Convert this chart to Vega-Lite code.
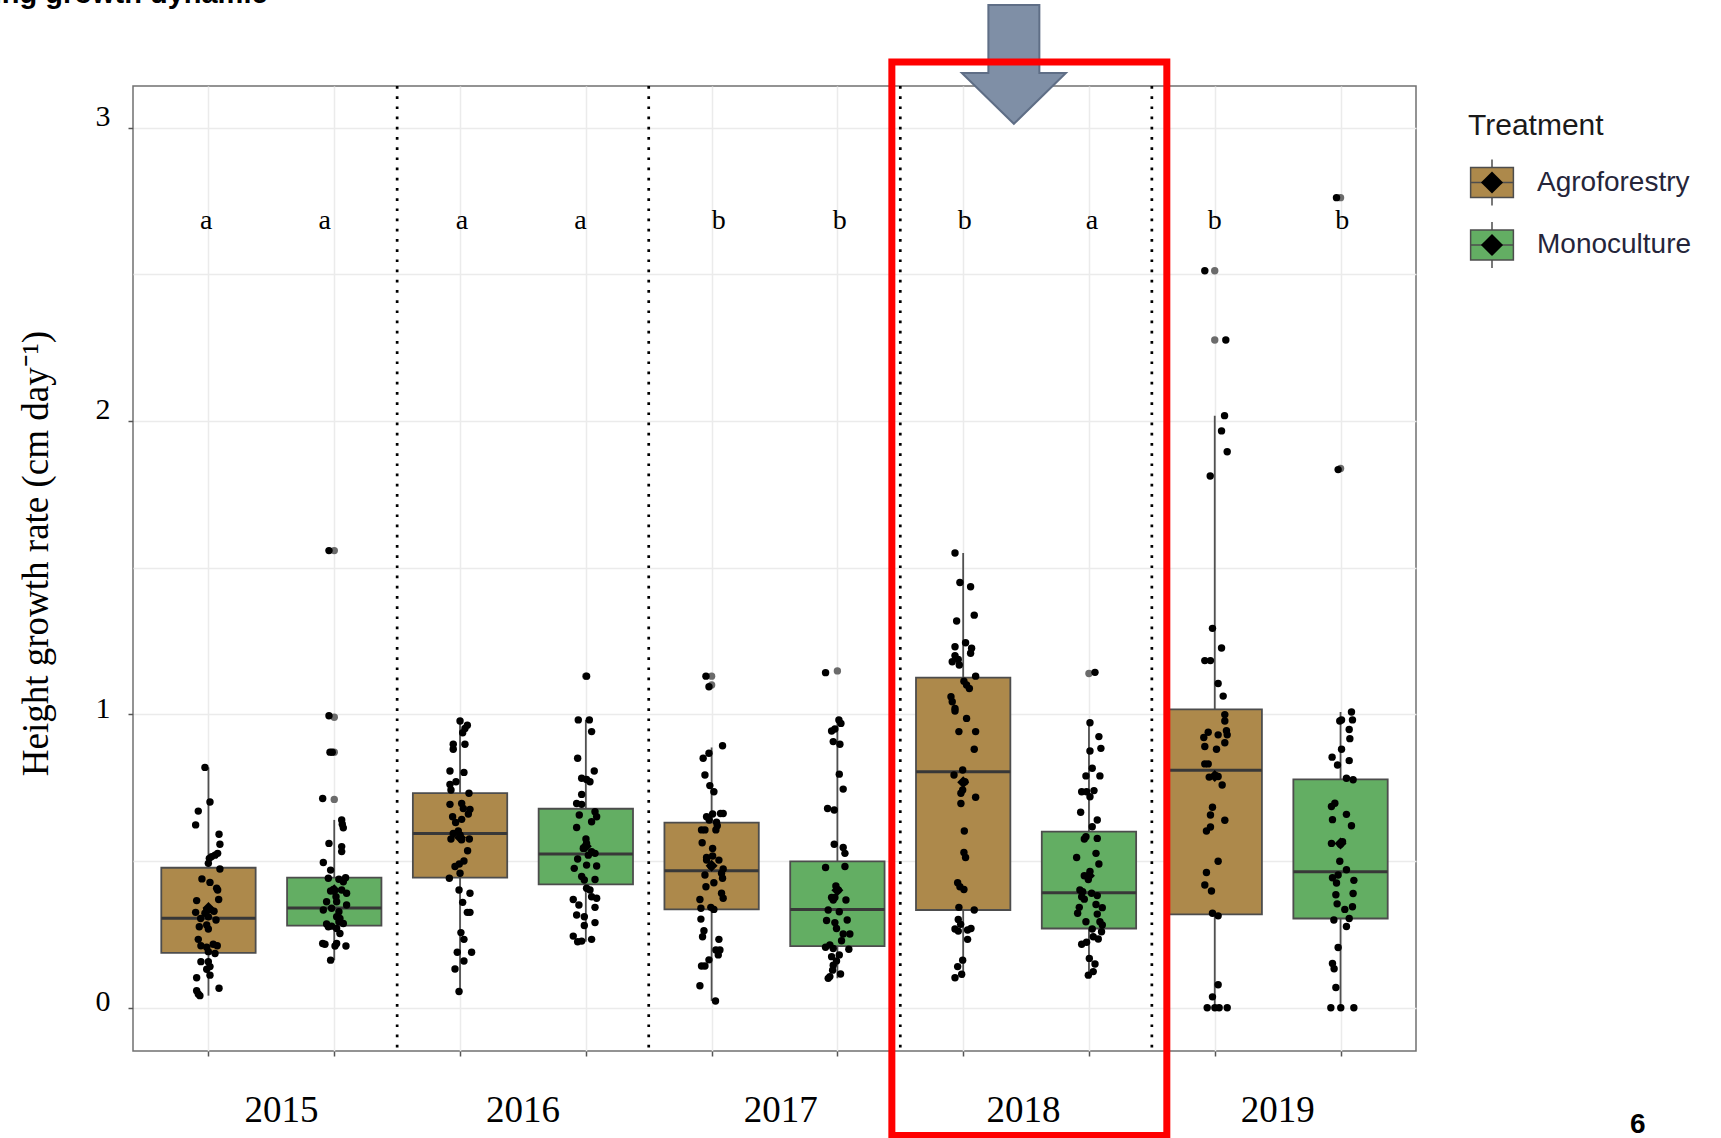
{
  "$schema": "https://vega.github.io/schema/vega-lite/v6.json",
  "width": 1283,
  "height": 965,
  "autosize": {"type": "none"},
  "padding": {"left": 133, "top": 86, "right": 305, "bottom": 87},
  "background": "#ffffff",
  "config": {"view": {"stroke": "#707070", "strokeWidth": 1.5}},
  "datasets": {
    "boxes": [
      {"year": "2015", "treatment": "Agroforestry", "pos": 1, "lo": 0.041, "q1": 0.187, "med": 0.305, "q3": 0.477, "hi": 0.819, "mean": 0.34, "letter": "a", "lx": 0.983},
      {"year": "2015", "treatment": "Monoculture", "pos": 2, "lo": 0.162, "q1": 0.280, "med": 0.340, "q3": 0.443, "hi": 0.640, "mean": 0.40, "letter": "a", "lx": 1.925},
      {"year": "2016", "treatment": "Agroforestry", "pos": 3, "lo": 0.055, "q1": 0.443, "med": 0.594, "q3": 0.731, "hi": 0.977, "mean": 0.58, "letter": "a", "lx": 3.016},
      {"year": "2016", "treatment": "Monoculture", "pos": 4, "lo": 0.225, "q1": 0.420, "med": 0.524, "q3": 0.678, "hi": 0.981, "mean": 0.55, "letter": "a", "lx": 3.958},
      {"year": "2017", "treatment": "Agroforestry", "pos": 5, "lo": 0.023, "q1": 0.335, "med": 0.467, "q3": 0.631, "hi": 0.887, "mean": 0.484, "letter": "b", "lx": 5.057},
      {"year": "2017", "treatment": "Monoculture", "pos": 6, "lo": 0.100, "q1": 0.210, "med": 0.335, "q3": 0.499, "hi": 0.975, "mean": 0.40, "letter": "b", "lx": 6.018},
      {"year": "2018", "treatment": "Agroforestry", "pos": 7, "lo": 0.102, "q1": 0.333, "med": 0.804, "q3": 1.125, "hi": 1.550, "mean": 0.768, "letter": "b", "lx": 7.012},
      {"year": "2018", "treatment": "Monoculture", "pos": 8, "lo": 0.111, "q1": 0.270, "med": 0.392, "q3": 0.600, "hi": 0.971, "mean": 0.45, "letter": "a", "lx": 8.024},
      {"year": "2019", "treatment": "Agroforestry", "pos": 9, "lo": 0.0, "q1": 0.318, "med": 0.809, "q3": 1.017, "hi": 2.018, "mean": 0.79, "letter": "b", "lx": 9.001},
      {"year": "2019", "treatment": "Monoculture", "pos": 10, "lo": 0.0, "q1": 0.304, "med": 0.463, "q3": 0.778, "hi": 1.008, "mean": 0.56, "letter": "b", "lx": 10.014}
    ],
    "outliers": [
      {"box": "2015-M", "pos": 2, "rate": 1.558},
      {"box": "2015-M", "pos": 2, "rate": 0.990},
      {"box": "2015-M", "pos": 2, "rate": 0.871},
      {"box": "2015-M", "pos": 2, "rate": 0.710},
      {"box": "2016-M", "pos": 4, "rate": 1.130},
      {"box": "2017-A", "pos": 5, "rate": 1.130},
      {"box": "2017-A", "pos": 5, "rate": 1.100},
      {"box": "2017-M", "pos": 6, "rate": 1.148},
      {"box": "2018-M", "pos": 8, "rate": 1.139},
      {"box": "2019-A", "pos": 9, "rate": 2.512},
      {"box": "2019-A", "pos": 9, "rate": 2.276},
      {"box": "2019-M", "pos": 10, "rate": 2.761},
      {"box": "2019-M", "pos": 10, "rate": 1.838}
    ],
    "points": [
      {"box":"2015-A","pos":0.972,"rate":0.819},{"box":"2015-A","pos":1.012,"rate":0.701},{"box":"2015-A","pos":0.919,"rate":0.670},{"box":"2015-A","pos":0.898,"rate":0.623},{"box":"2015-A","pos":1.084,"rate":0.591},{"box":"2015-A","pos":1.091,"rate":0.557},{"box":"2015-A","pos":1.073,"rate":0.526},{"box":"2015-A","pos":1.052,"rate":0.520},{"box":"2015-A","pos":1.025,"rate":0.515},{"box":"2015-A","pos":1.007,"rate":0.509},{"box":"2015-A","pos":0.999,"rate":0.492},{"box":"2015-A","pos":1.091,"rate":0.473},{"box":"2015-A","pos":0.948,"rate":0.439},{"box":"2015-A","pos":1.012,"rate":0.427},{"box":"2015-A","pos":1.065,"rate":0.407},{"box":"2015-A","pos":1.073,"rate":0.401},{"box":"2015-A","pos":1.081,"rate":0.369},{"box":"2015-A","pos":0.906,"rate":0.365},{"box":"2015-A","pos":1.012,"rate":0.335},{"box":"2015-A","pos":0.986,"rate":0.333},{"box":"2015-A","pos":1.044,"rate":0.329},{"box":"2015-A","pos":0.898,"rate":0.325},{"box":"2015-A","pos":0.972,"rate":0.322},{"box":"2015-A","pos":0.938,"rate":0.304},{"box":"2015-A","pos":1.060,"rate":0.299},{"box":"2015-A","pos":0.999,"rate":0.310},{"box":"2015-A","pos":0.927,"rate":0.276},{"box":"2015-A","pos":0.999,"rate":0.268},{"box":"2015-A","pos":0.986,"rate":0.282},{"box":"2015-A","pos":0.919,"rate":0.233},{"box":"2015-A","pos":0.940,"rate":0.211},{"box":"2015-A","pos":0.986,"rate":0.206},{"box":"2015-A","pos":1.038,"rate":0.216},{"box":"2015-A","pos":1.070,"rate":0.211},{"box":"2015-A","pos":1.052,"rate":0.185},{"box":"2015-A","pos":0.999,"rate":0.191},{"box":"2015-A","pos":0.940,"rate":0.157},{"box":"2015-A","pos":0.999,"rate":0.157},{"box":"2015-A","pos":1.012,"rate":0.140},{"box":"2015-A","pos":0.986,"rate":0.131},{"box":"2015-A","pos":1.012,"rate":0.111},{"box":"2015-A","pos":0.906,"rate":0.102},{"box":"2015-A","pos":1.084,"rate":0.066},{"box":"2015-A","pos":0.906,"rate":0.058},{"box":"2015-A","pos":0.919,"rate":0.047},{"box":"2015-A","pos":0.932,"rate":0.041},
      {"box":"2015-M","pos":1.958,"rate":1.558},{"box":"2015-M","pos":1.958,"rate":0.995},{"box":"2015-M","pos":1.966,"rate":0.871},{"box":"2015-M","pos":1.984,"rate":0.871},{"box":"2015-M","pos":1.908,"rate":0.713},{"box":"2015-M","pos":2.059,"rate":0.640},{"box":"2015-M","pos":2.064,"rate":0.625},{"box":"2015-M","pos":2.072,"rate":0.613},{"box":"2015-M","pos":1.958,"rate":0.560},{"box":"2015-M","pos":2.059,"rate":0.549},{"box":"2015-M","pos":2.059,"rate":0.532},{"box":"2015-M","pos":1.913,"rate":0.495},{"box":"2015-M","pos":1.971,"rate":0.469},{"box":"2015-M","pos":1.953,"rate":0.441},{"box":"2015-M","pos":2.037,"rate":0.438},{"box":"2015-M","pos":2.090,"rate":0.443},{"box":"2015-M","pos":2.072,"rate":0.429},{"box":"2015-M","pos":1.993,"rate":0.403},{"box":"2015-M","pos":1.971,"rate":0.398},{"box":"2015-M","pos":2.059,"rate":0.401},{"box":"2015-M","pos":2.098,"rate":0.390},{"box":"2015-M","pos":2.014,"rate":0.378},{"box":"2015-M","pos":1.939,"rate":0.361},{"box":"2015-M","pos":2.019,"rate":0.361},{"box":"2015-M","pos":2.098,"rate":0.350},{"box":"2015-M","pos":1.913,"rate":0.333},{"box":"2015-M","pos":1.979,"rate":0.339},{"box":"2015-M","pos":2.037,"rate":0.327},{"box":"2015-M","pos":2.019,"rate":0.310},{"box":"2015-M","pos":2.045,"rate":0.304},{"box":"2015-M","pos":1.939,"rate":0.285},{"box":"2015-M","pos":1.979,"rate":0.278},{"box":"2015-M","pos":2.037,"rate":0.293},{"box":"2015-M","pos":2.072,"rate":0.287},{"box":"2015-M","pos":1.953,"rate":0.276},{"box":"2015-M","pos":2.019,"rate":0.270},{"box":"2015-M","pos":2.045,"rate":0.253},{"box":"2015-M","pos":1.908,"rate":0.219},{"box":"2015-M","pos":1.926,"rate":0.216},{"box":"2015-M","pos":2.019,"rate":0.219},{"box":"2015-M","pos":2.006,"rate":0.210},{"box":"2015-M","pos":2.093,"rate":0.210},{"box":"2015-M","pos":1.971,"rate":0.162},
      {"box":"2016-A","pos":3.000,"rate":0.977},{"box":"2016-A","pos":3.058,"rate":0.963},{"box":"2016-A","pos":3.039,"rate":0.952},{"box":"2016-A","pos":3.021,"rate":0.937},{"box":"2016-A","pos":2.946,"rate":0.898},{"box":"2016-A","pos":2.946,"rate":0.881},{"box":"2016-A","pos":3.039,"rate":0.898},{"box":"2016-A","pos":2.920,"rate":0.807},{"box":"2016-A","pos":3.031,"rate":0.802},{"box":"2016-A","pos":2.968,"rate":0.770},{"box":"2016-A","pos":2.920,"rate":0.761},{"box":"2016-A","pos":2.928,"rate":0.742},{"box":"2016-A","pos":3.071,"rate":0.731},{"box":"2016-A","pos":2.920,"rate":0.693},{"box":"2016-A","pos":3.013,"rate":0.696},{"box":"2016-A","pos":3.026,"rate":0.679},{"box":"2016-A","pos":3.079,"rate":0.676},{"box":"2016-A","pos":3.066,"rate":0.660},{"box":"2016-A","pos":2.941,"rate":0.651},{"box":"2016-A","pos":2.965,"rate":0.631},{"box":"2016-A","pos":3.013,"rate":0.642},{"box":"2016-A","pos":2.986,"rate":0.602},{"box":"2016-A","pos":2.946,"rate":0.594},{"box":"2016-A","pos":3.000,"rate":0.589},{"box":"2016-A","pos":2.928,"rate":0.575},{"box":"2016-A","pos":3.013,"rate":0.572},{"box":"2016-A","pos":3.074,"rate":0.575},{"box":"2016-A","pos":3.060,"rate":0.535},{"box":"2016-A","pos":3.031,"rate":0.500},{"box":"2016-A","pos":2.994,"rate":0.490},{"box":"2016-A","pos":2.960,"rate":0.481},{"box":"2016-A","pos":3.000,"rate":0.458},{"box":"2016-A","pos":2.915,"rate":0.441},{"box":"2016-A","pos":2.992,"rate":0.401},{"box":"2016-A","pos":3.079,"rate":0.390},{"box":"2016-A","pos":3.021,"rate":0.359},{"box":"2016-A","pos":3.058,"rate":0.325},{"box":"2016-A","pos":3.079,"rate":0.325},{"box":"2016-A","pos":3.007,"rate":0.256},{"box":"2016-A","pos":3.031,"rate":0.233},{"box":"2016-A","pos":2.978,"rate":0.189},{"box":"2016-A","pos":3.092,"rate":0.189},{"box":"2016-A","pos":3.031,"rate":0.159},{"box":"2016-A","pos":2.960,"rate":0.132},{"box":"2016-A","pos":2.992,"rate":0.055},
      {"box":"2016-M","pos":4.006,"rate":1.130},{"box":"2016-M","pos":3.940,"rate":0.981},{"box":"2016-M","pos":4.028,"rate":0.981},{"box":"2016-M","pos":4.046,"rate":0.941},{"box":"2016-M","pos":3.935,"rate":0.850},{"box":"2016-M","pos":4.067,"rate":0.807},{"box":"2016-M","pos":3.967,"rate":0.782},{"box":"2016-M","pos":4.006,"rate":0.778},{"box":"2016-M","pos":4.033,"rate":0.770},{"box":"2016-M","pos":3.967,"rate":0.727},{"box":"2016-M","pos":3.927,"rate":0.696},{"box":"2016-M","pos":3.967,"rate":0.693},{"box":"2016-M","pos":4.073,"rate":0.668},{"box":"2016-M","pos":3.948,"rate":0.657},{"box":"2016-M","pos":4.086,"rate":0.651},{"box":"2016-M","pos":4.046,"rate":0.634},{"box":"2016-M","pos":3.927,"rate":0.614},{"box":"2016-M","pos":4.001,"rate":0.575},{"box":"2016-M","pos":4.006,"rate":0.560},{"box":"2016-M","pos":3.980,"rate":0.543},{"box":"2016-M","pos":4.046,"rate":0.532},{"box":"2016-M","pos":4.020,"rate":0.520},{"box":"2016-M","pos":4.073,"rate":0.526},{"box":"2016-M","pos":3.935,"rate":0.507},{"box":"2016-M","pos":4.006,"rate":0.486},{"box":"2016-M","pos":3.908,"rate":0.475},{"box":"2016-M","pos":4.086,"rate":0.483},{"box":"2016-M","pos":3.967,"rate":0.447},{"box":"2016-M","pos":3.988,"rate":0.435},{"box":"2016-M","pos":4.073,"rate":0.437},{"box":"2016-M","pos":4.006,"rate":0.407},{"box":"2016-M","pos":4.033,"rate":0.401},{"box":"2016-M","pos":4.046,"rate":0.378},{"box":"2016-M","pos":4.086,"rate":0.373},{"box":"2016-M","pos":3.900,"rate":0.369},{"box":"2016-M","pos":3.945,"rate":0.350},{"box":"2016-M","pos":4.073,"rate":0.342},{"box":"2016-M","pos":3.927,"rate":0.316},{"box":"2016-M","pos":3.988,"rate":0.310},{"box":"2016-M","pos":3.988,"rate":0.280},{"box":"2016-M","pos":4.073,"rate":0.290},{"box":"2016-M","pos":3.900,"rate":0.244},{"box":"2016-M","pos":3.935,"rate":0.225},{"box":"2016-M","pos":3.967,"rate":0.227},{"box":"2016-M","pos":4.046,"rate":0.233},
      {"box":"2017-A","pos":4.955,"rate":1.130},{"box":"2017-A","pos":4.979,"rate":1.094},{"box":"2017-A","pos":5.087,"rate":0.893},{"box":"2017-A","pos":4.979,"rate":0.867},{"box":"2017-A","pos":4.933,"rate":0.850},{"box":"2017-A","pos":4.947,"rate":0.793},{"box":"2017-A","pos":4.986,"rate":0.757},{"box":"2017-A","pos":5.018,"rate":0.736},{"box":"2017-A","pos":5.071,"rate":0.662},{"box":"2017-A","pos":5.092,"rate":0.662},{"box":"2017-A","pos":5.008,"rate":0.660},{"box":"2017-A","pos":4.960,"rate":0.651},{"box":"2017-A","pos":4.981,"rate":0.640},{"box":"2017-A","pos":5.039,"rate":0.632},{"box":"2017-A","pos":5.045,"rate":0.620},{"box":"2017-A","pos":4.920,"rate":0.606},{"box":"2017-A","pos":4.947,"rate":0.606},{"box":"2017-A","pos":5.034,"rate":0.606},{"box":"2017-A","pos":4.925,"rate":0.562},{"box":"2017-A","pos":5.008,"rate":0.543},{"box":"2017-A","pos":4.960,"rate":0.512},{"box":"2017-A","pos":5.008,"rate":0.517},{"box":"2017-A","pos":5.058,"rate":0.503},{"box":"2017-A","pos":4.994,"rate":0.483},{"box":"2017-A","pos":4.960,"rate":0.503},{"box":"2017-A","pos":5.092,"rate":0.473},{"box":"2017-A","pos":5.079,"rate":0.458},{"box":"2017-A","pos":4.947,"rate":0.452},{"box":"2017-A","pos":5.087,"rate":0.441},{"box":"2017-A","pos":5.018,"rate":0.426},{"box":"2017-A","pos":4.955,"rate":0.412},{"box":"2017-A","pos":5.079,"rate":0.390},{"box":"2017-A","pos":5.092,"rate":0.373},{"box":"2017-A","pos":4.907,"rate":0.369},{"box":"2017-A","pos":4.915,"rate":0.339},{"box":"2017-A","pos":4.994,"rate":0.342},{"box":"2017-A","pos":5.018,"rate":0.335},{"box":"2017-A","pos":4.915,"rate":0.302},{"box":"2017-A","pos":4.939,"rate":0.262},{"box":"2017-A","pos":4.928,"rate":0.242},{"box":"2017-A","pos":5.058,"rate":0.233},{"box":"2017-A","pos":5.034,"rate":0.197},{"box":"2017-A","pos":5.066,"rate":0.197},{"box":"2017-A","pos":5.053,"rate":0.180},{"box":"2017-A","pos":4.979,"rate":0.163},{"box":"2017-A","pos":4.920,"rate":0.142},{"box":"2017-A","pos":4.947,"rate":0.142},{"box":"2017-A","pos":4.907,"rate":0.075},{"box":"2017-A","pos":5.031,"rate":0.023},
      {"box":"2017-M","pos":5.906,"rate":1.142},{"box":"2017-M","pos":6.012,"rate":0.981},{"box":"2017-M","pos":6.028,"rate":0.969},{"box":"2017-M","pos":5.980,"rate":0.950},{"box":"2017-M","pos":5.954,"rate":0.943},{"box":"2017-M","pos":5.967,"rate":0.907},{"box":"2017-M","pos":6.020,"rate":0.898},{"box":"2017-M","pos":6.015,"rate":0.796},{"box":"2017-M","pos":6.046,"rate":0.745},{"box":"2017-M","pos":5.922,"rate":0.679},{"box":"2017-M","pos":5.975,"rate":0.674},{"box":"2017-M","pos":5.975,"rate":0.557},{"box":"2017-M","pos":6.046,"rate":0.546},{"box":"2017-M","pos":6.060,"rate":0.526},{"box":"2017-M","pos":5.906,"rate":0.478},{"box":"2017-M","pos":6.060,"rate":0.481},{"box":"2017-M","pos":5.988,"rate":0.415},{"box":"2017-M","pos":6.007,"rate":0.401},{"box":"2017-M","pos":5.954,"rate":0.376},{"box":"2017-M","pos":5.980,"rate":0.376},{"box":"2017-M","pos":5.967,"rate":0.367},{"box":"2017-M","pos":6.068,"rate":0.367},{"box":"2017-M","pos":5.927,"rate":0.333},{"box":"2017-M","pos":6.015,"rate":0.327},{"box":"2017-M","pos":5.914,"rate":0.297},{"box":"2017-M","pos":5.980,"rate":0.290},{"box":"2017-M","pos":6.078,"rate":0.299},{"box":"2017-M","pos":5.993,"rate":0.270},{"box":"2017-M","pos":6.046,"rate":0.251},{"box":"2017-M","pos":6.099,"rate":0.251},{"box":"2017-M","pos":6.033,"rate":0.228},{"box":"2017-M","pos":5.940,"rate":0.214},{"box":"2017-M","pos":5.906,"rate":0.206},{"box":"2017-M","pos":5.967,"rate":0.202},{"box":"2017-M","pos":6.091,"rate":0.199},{"box":"2017-M","pos":5.954,"rate":0.174},{"box":"2017-M","pos":6.015,"rate":0.180},{"box":"2017-M","pos":5.967,"rate":0.145},{"box":"2017-M","pos":5.993,"rate":0.159},{"box":"2017-M","pos":5.962,"rate":0.128},{"box":"2017-M","pos":6.025,"rate":0.115},{"box":"2017-M","pos":5.940,"rate":0.106},{"box":"2017-M","pos":5.927,"rate":0.100},
      {"box":"2018-A","pos":6.935,"rate":1.550},{"box":"2018-A","pos":6.974,"rate":1.449},{"box":"2018-A","pos":7.059,"rate":1.435},{"box":"2018-A","pos":7.088,"rate":1.338},{"box":"2018-A","pos":6.948,"rate":1.318},{"box":"2018-A","pos":7.019,"rate":1.244},{"box":"2018-A","pos":6.935,"rate":1.230},{"box":"2018-A","pos":7.067,"rate":1.225},{"box":"2018-A","pos":7.059,"rate":1.208},{"box":"2018-A","pos":6.935,"rate":1.200},{"box":"2018-A","pos":6.961,"rate":1.187},{"box":"2018-A","pos":6.913,"rate":1.179},{"box":"2018-A","pos":6.969,"rate":1.168},{"box":"2018-A","pos":7.099,"rate":1.130},{"box":"2018-A","pos":7.006,"rate":1.113},{"box":"2018-A","pos":7.027,"rate":1.100},{"box":"2018-A","pos":7.049,"rate":1.088},{"box":"2018-A","pos":6.903,"rate":1.060},{"box":"2018-A","pos":6.913,"rate":1.043},{"box":"2018-A","pos":6.935,"rate":1.020},{"box":"2018-A","pos":6.935,"rate":1.011},{"box":"2018-A","pos":7.027,"rate":0.986},{"box":"2018-A","pos":6.966,"rate":0.941},{"box":"2018-A","pos":7.099,"rate":0.941},{"box":"2018-A","pos":7.088,"rate":0.881},{"box":"2018-A","pos":6.996,"rate":0.810},{"box":"2018-A","pos":6.927,"rate":0.793},{"box":"2018-A","pos":7.014,"rate":0.770},{"box":"2018-A","pos":6.996,"rate":0.742},{"box":"2018-A","pos":6.982,"rate":0.731},{"box":"2018-A","pos":7.099,"rate":0.717},{"box":"2018-A","pos":6.982,"rate":0.696},{"box":"2018-A","pos":7.009,"rate":0.602},{"box":"2018-A","pos":7.006,"rate":0.529},{"box":"2018-A","pos":7.019,"rate":0.512},{"box":"2018-A","pos":6.956,"rate":0.426},{"box":"2018-A","pos":6.974,"rate":0.412},{"box":"2018-A","pos":7.006,"rate":0.403},{"box":"2018-A","pos":6.966,"rate":0.342},{"box":"2018-A","pos":7.088,"rate":0.333},{"box":"2018-A","pos":6.961,"rate":0.301},{"box":"2018-A","pos":6.980,"rate":0.284},{"box":"2018-A","pos":6.935,"rate":0.268},{"box":"2018-A","pos":6.961,"rate":0.261},{"box":"2018-A","pos":7.035,"rate":0.265},{"box":"2018-A","pos":7.062,"rate":0.270},{"box":"2018-A","pos":7.035,"rate":0.233},{"box":"2018-A","pos":6.996,"rate":0.162},{"box":"2018-A","pos":6.956,"rate":0.140},{"box":"2018-A","pos":6.988,"rate":0.114},{"box":"2018-A","pos":6.935,"rate":0.102},
      {"box":"2018-M","pos":8.048,"rate":1.143},{"box":"2018-M","pos":8.008,"rate":0.971},{"box":"2018-M","pos":8.079,"rate":0.924},{"box":"2018-M","pos":8.095,"rate":0.884},{"box":"2018-M","pos":8.008,"rate":0.875},{"box":"2018-M","pos":8.026,"rate":0.816},{"box":"2018-M","pos":7.976,"rate":0.790},{"box":"2018-M","pos":8.087,"rate":0.790},{"box":"2018-M","pos":7.942,"rate":0.736},{"box":"2018-M","pos":7.981,"rate":0.736},{"box":"2018-M","pos":8.040,"rate":0.740},{"box":"2018-M","pos":8.008,"rate":0.719},{"box":"2018-M","pos":7.934,"rate":0.666},{"box":"2018-M","pos":8.066,"rate":0.640},{"box":"2018-M","pos":8.026,"rate":0.617},{"box":"2018-M","pos":7.976,"rate":0.583},{"box":"2018-M","pos":7.963,"rate":0.575},{"box":"2018-M","pos":8.066,"rate":0.577},{"box":"2018-M","pos":8.056,"rate":0.526},{"box":"2018-M","pos":7.902,"rate":0.512},{"box":"2018-M","pos":8.079,"rate":0.490},{"box":"2018-M","pos":8.008,"rate":0.464},{"box":"2018-M","pos":7.963,"rate":0.450},{"box":"2018-M","pos":7.995,"rate":0.437},{"box":"2018-M","pos":7.928,"rate":0.401},{"box":"2018-M","pos":7.950,"rate":0.395},{"box":"2018-M","pos":8.021,"rate":0.390},{"box":"2018-M","pos":8.066,"rate":0.382},{"box":"2018-M","pos":7.942,"rate":0.378},{"box":"2018-M","pos":7.963,"rate":0.370},{"box":"2018-M","pos":8.056,"rate":0.352},{"box":"2018-M","pos":8.106,"rate":0.341},{"box":"2018-M","pos":7.923,"rate":0.342},{"box":"2018-M","pos":7.910,"rate":0.322},{"box":"2018-M","pos":8.066,"rate":0.319},{"box":"2018-M","pos":7.976,"rate":0.293},{"box":"2018-M","pos":8.087,"rate":0.293},{"box":"2018-M","pos":8.106,"rate":0.282},{"box":"2018-M","pos":8.026,"rate":0.268},{"box":"2018-M","pos":8.100,"rate":0.259},{"box":"2018-M","pos":8.034,"rate":0.242},{"box":"2018-M","pos":8.074,"rate":0.234},{"box":"2018-M","pos":7.981,"rate":0.223},{"box":"2018-M","pos":7.942,"rate":0.216},{"box":"2018-M","pos":8.003,"rate":0.168},{"box":"2018-M","pos":8.048,"rate":0.149},{"box":"2018-M","pos":8.034,"rate":0.123},{"box":"2018-M","pos":7.995,"rate":0.111},
      {"box":"2019-A","pos":8.921,"rate":2.512},{"box":"2019-A","pos":9.088,"rate":2.276},{"box":"2019-A","pos":9.078,"rate":2.018},{"box":"2019-A","pos":9.054,"rate":1.966},{"box":"2019-A","pos":9.099,"rate":1.895},{"box":"2019-A","pos":8.964,"rate":1.812},{"box":"2019-A","pos":8.982,"rate":1.293},{"box":"2019-A","pos":9.054,"rate":1.226},{"box":"2019-A","pos":8.921,"rate":1.183},{"box":"2019-A","pos":8.966,"rate":1.183},{"box":"2019-A","pos":9.027,"rate":1.105},{"box":"2019-A","pos":9.067,"rate":1.062},{"box":"2019-A","pos":9.080,"rate":0.999},{"box":"2019-A","pos":9.080,"rate":0.977},{"box":"2019-A","pos":9.093,"rate":0.944},{"box":"2019-A","pos":9.099,"rate":0.930},{"box":"2019-A","pos":8.948,"rate":0.939},{"box":"2019-A","pos":8.913,"rate":0.921},{"box":"2019-A","pos":9.027,"rate":0.930},{"box":"2019-A","pos":9.080,"rate":0.903},{"box":"2019-A","pos":8.921,"rate":0.890},{"box":"2019-A","pos":9.014,"rate":0.881},{"box":"2019-A","pos":8.921,"rate":0.831},{"box":"2019-A","pos":8.948,"rate":0.831},{"box":"2019-A","pos":8.956,"rate":0.786},{"box":"2019-A","pos":9.009,"rate":0.791},{"box":"2019-A","pos":9.027,"rate":0.788},{"box":"2019-A","pos":9.059,"rate":0.759},{"box":"2019-A","pos":8.982,"rate":0.683},{"box":"2019-A","pos":8.966,"rate":0.657},{"box":"2019-A","pos":9.080,"rate":0.639},{"box":"2019-A","pos":8.966,"rate":0.616},{"box":"2019-A","pos":8.934,"rate":0.602},{"box":"2019-A","pos":9.027,"rate":0.499},{"box":"2019-A","pos":8.934,"rate":0.461},{"box":"2019-A","pos":8.921,"rate":0.418},{"box":"2019-A","pos":8.974,"rate":0.398},{"box":"2019-A","pos":8.982,"rate":0.322},{"box":"2019-A","pos":9.027,"rate":0.313},{"box":"2019-A","pos":9.027,"rate":0.078},{"box":"2019-A","pos":8.982,"rate":0.037},{"box":"2019-A","pos":8.940,"rate":0.0},{"box":"2019-A","pos":9.001,"rate":0.0},{"box":"2019-A","pos":9.035,"rate":0.0},{"box":"2019-A","pos":9.099,"rate":0.0},
      {"box":"2019-M","pos":9.968,"rate":2.761},{"box":"2019-M","pos":9.981,"rate":1.834},{"box":"2019-M","pos":10.008,"rate":0.981},{"box":"2019-M","pos":10.087,"rate":1.008},{"box":"2019-M","pos":10.095,"rate":0.981},{"box":"2019-M","pos":9.994,"rate":0.977},{"box":"2019-M","pos":10.069,"rate":0.948},{"box":"2019-M","pos":10.074,"rate":0.917},{"box":"2019-M","pos":9.933,"rate":0.854},{"box":"2019-M","pos":10.008,"rate":0.881},{"box":"2019-M","pos":9.976,"rate":0.827},{"box":"2019-M","pos":10.069,"rate":0.842},{"box":"2019-M","pos":10.047,"rate":0.782},{"box":"2019-M","pos":10.100,"rate":0.777},{"box":"2019-M","pos":9.955,"rate":0.697},{"box":"2019-M","pos":9.928,"rate":0.686},{"box":"2019-M","pos":10.047,"rate":0.659},{"box":"2019-M","pos":9.936,"rate":0.641},{"box":"2019-M","pos":10.087,"rate":0.620},{"box":"2019-M","pos":9.928,"rate":0.560},{"box":"2019-M","pos":9.999,"rate":0.557},{"box":"2019-M","pos":10.016,"rate":0.566},{"box":"2019-M","pos":9.994,"rate":0.499},{"box":"2019-M","pos":10.047,"rate":0.470},{"box":"2019-M","pos":9.981,"rate":0.452},{"box":"2019-M","pos":9.936,"rate":0.443},{"box":"2019-M","pos":9.968,"rate":0.425},{"box":"2019-M","pos":10.106,"rate":0.434},{"box":"2019-M","pos":9.963,"rate":0.385},{"box":"2019-M","pos":10.100,"rate":0.389},{"box":"2019-M","pos":9.973,"rate":0.354},{"box":"2019-M","pos":10.034,"rate":0.335},{"box":"2019-M","pos":10.095,"rate":0.344},{"box":"2019-M","pos":9.947,"rate":0.299},{"box":"2019-M","pos":10.069,"rate":0.304},{"box":"2019-M","pos":10.047,"rate":0.277},{"box":"2019-M","pos":9.981,"rate":0.205},{"box":"2019-M","pos":9.936,"rate":0.151},{"box":"2019-M","pos":9.949,"rate":0.133},{"box":"2019-M","pos":9.963,"rate":0.069},{"box":"2019-M","pos":9.923,"rate":0.0},{"box":"2019-M","pos":10.002,"rate":0.0},{"box":"2019-M","pos":10.106,"rate":0.0}
    ]
  },
  "layer": [
    {
      "data": {"name": "boxes"},
      "mark": {"type": "rule", "color": "#505050", "strokeWidth": 1.8},
      "encoding": {
        "x": {
          "field": "pos", "type": "quantitative",
          "scale": {"domain": [0.4, 10.6], "nice": false, "zero": false, "padding": 0},
          "axis": {
            "values": [1, 2, 3, 4, 5, 6, 7, 8, 9, 10],
            "labels": false, "domain": false, "title": null,
            "ticks": true, "tickSize": 5, "tickWidth": 1.5, "tickColor": "#555555",
            "grid": true, "gridColor": "#ebebeb", "gridWidth": 1.5
          }
        },
        "y": {
          "field": "lo", "type": "quantitative",
          "scale": {"domain": [-0.1476, 3.1415], "nice": false, "zero": false, "padding": 0},
          "axis": {
            "values": [0, 0.5, 1, 1.5, 2, 2.5, 3],
            "labelExpr": "datum.value % 1 === 0 ? format(datum.value, 'd') : ''",
            "domain": false,
            "tickSize": 5, "tickWidth": 1.5, "tickColor": "#555555",
            "tickOpacity": {"condition": {"test": "datum.value % 1 !== 0", "value": 0}, "value": 1},
            "grid": true, "gridColor": "#ebebeb", "gridWidth": 1.5,
            "labelFont": "Liberation Serif", "labelFontSize": 30, "labelColor": "#000000",
            "labelPadding": 18,
            "labelOffset": {"condition": {"test": "datum.value >= 2", "value": -11}, "value": -6},
            "title": "Height growth rate (cm day⁻¹)",
            "titleFont": "Liberation Serif", "titleFontSize": 37, "titleFontWeight": "normal",
            "titleColor": "#000000", "titleAngle": -90, "titleAlign": "center",
            "titleBaseline": "middle", "titleX": -97, "titleY": 467
          }
        },
        "y2": {"field": "hi"}
      }
    },
    {
      "data": {"values": [{"boundary": 2.5}, {"boundary": 4.5}, {"boundary": 6.5}, {"boundary": 8.5}]},
      "mark": {"type": "rule", "color": "#000000", "strokeWidth": 2.7, "strokeDash": [2.7, 7.5]},
      "encoding": {"x": {"field": "boundary", "type": "quantitative"}}
    },
    {
      "data": {"name": "boxes"},
      "mark": {"type": "bar", "width": 94.35, "stroke": "#4d4d4d", "strokeWidth": 1.8, "opacity": 1},
      "encoding": {
        "x": {"field": "pos", "type": "quantitative"},
        "y": {"field": "q1", "type": "quantitative"},
        "y2": {"field": "q3"},
        "fill": {
          "field": "treatment", "type": "nominal",
          "scale": {"domain": ["Agroforestry", "Monoculture"], "range": ["#ad894b", "#63ae63"]},
          "legend": {
            "title": "Treatment", "orient": "none", "legendX": 1335, "legendY": 25, "padding": 0,
            "titleFont": "Liberation Sans", "titleFontSize": 30, "titleFontWeight": "normal",
            "titleColor": "#1a1a1a", "titlePadding": 17.5,
            "labelFont": "Liberation Sans", "labelFontSize": 28, "labelColor": "#25253a", "labelOffset": 21,
            "symbolType": "M-0.93,-0.65H0.93V0.65H-0.93Z M0,-1V-0.65 M0,0.65V1 M-0.93,0H0.93",
            "symbolSize": 2116, "symbolStrokeColor": "#4d4d4d", "symbolStrokeWidth": 1.5,
            "symbolOpacity": 1, "rowPadding": 10.5
          }
        }
      }
    },
    {
      "data": {"name": "boxes"},
      "mark": {"type": "tick", "orient": "horizontal", "size": 94.35, "thickness": 3, "color": "#383838", "opacity": 1},
      "encoding": {
        "x": {"field": "pos", "type": "quantitative"},
        "y": {"field": "med", "type": "quantitative"}
      }
    },
    {
      "data": {"name": "outliers"},
      "mark": {"type": "circle", "color": "#6b6b6b", "size": 55, "opacity": 1},
      "encoding": {
        "x": {"field": "pos", "type": "quantitative"},
        "y": {"field": "rate", "type": "quantitative"}
      }
    },
    {
      "data": {"name": "points"},
      "mark": {"type": "circle", "color": "#000000", "size": 55, "opacity": 1},
      "encoding": {
        "x": {"field": "pos", "type": "quantitative"},
        "y": {"field": "rate", "type": "quantitative"}
      }
    },
    {
      "data": {"name": "boxes"},
      "mark": {"type": "point", "filled": true, "color": "#000000", "size": 625, "opacity": 1, "strokeWidth": 1.5},
      "encoding": {
        "x": {"field": "pos", "type": "quantitative"},
        "y": {"field": "mean", "type": "quantitative"},
        "shape": {
          "field": "treatment", "type": "nominal",
          "scale": {"range": ["M-1,-1M1,1M0,-0.48L0.48,0L0,0.48L-0.48,0Z", "M-1,-1M1,1M0,-0.48L0.48,0L0,0.48L-0.48,0Z"]},
          "legend": {
            "title": "Treatment", "orient": "none", "legendX": 1335, "legendY": 25, "padding": 0,
            "titleFont": "Liberation Sans", "titleFontSize": 30, "titleFontWeight": "normal",
            "titleColor": "transparent", "titlePadding": 17.5,
            "labelFont": "Liberation Sans", "labelFontSize": 28, "labelColor": "transparent", "labelOffset": 21,
            "symbolSize": 2116, "symbolFillColor": "#000000", "symbolStrokeColor": "#000000", "symbolStrokeWidth": 1.5,
            "symbolOpacity": 1, "rowPadding": 10.5
          }
        }
      }
    },
    {
      "data": {"name": "boxes"},
      "mark": {"type": "text", "font": "Liberation Serif", "fontSize": 28, "color": "#000000", "align": "center", "baseline": "alphabetic"},
      "encoding": {
        "x": {"field": "lx", "type": "quantitative"},
        "y": {"datum": 2.655, "type": "quantitative"},
        "text": {"field": "letter"}
      }
    },
    {
      "data": {"values": [
        {"year": "2015", "pos": 1.58}, {"year": "2016", "pos": 3.5}, {"year": "2017", "pos": 5.55},
        {"year": "2018", "pos": 7.48}, {"year": "2019", "pos": 9.5}
      ]},
      "mark": {"type": "text", "font": "Liberation Serif", "fontSize": 37, "color": "#000000", "align": "center", "baseline": "alphabetic"},
      "encoding": {
        "x": {"field": "pos", "type": "quantitative"},
        "y": {"datum": -0.3896, "type": "quantitative"},
        "text": {"field": "year"}
      }
    },
    {
      "data": {"values": [{"cx": 7.403, "cy": 3.215}]},
      "mark": {
        "type": "point", "filled": true, "size": 14400, "opacity": 1,
        "shape": "M-0.425,-0.99L0.425,-0.99L0.425,0.142L0.867,0.142L0,0.99L-0.867,0.142L-0.425,0.142Z",
        "fill": "#7f8fa6", "stroke": "#5f6e86", "strokeWidth": 2
      },
      "encoding": {
        "x": {"field": "cx", "type": "quantitative"},
        "y": {"field": "cy", "type": "quantitative"}
      }
    },
    {
      "data": {"values": [{"x1": 6.433, "x2": 8.619, "y1": 3.223, "y2": -0.4356}]},
      "mark": {"type": "rect", "fillOpacity": 0, "stroke": "#ff0000", "strokeWidth": 7},
      "encoding": {
        "x": {"field": "x1", "type": "quantitative"},
        "x2": {"field": "x2"},
        "y": {"field": "y1", "type": "quantitative"},
        "y2": {"field": "y2"}
      }
    },
    {
      "data": {"values": [{"label": "Seedling growth dynamic", "px": 1.47, "py": 3.424}]},
      "mark": {"type": "text", "font": "Liberation Sans", "fontWeight": "bold", "fontSize": 29, "color": "#000000", "align": "right", "baseline": "alphabetic"},
      "encoding": {
        "x": {"field": "px", "type": "quantitative"},
        "y": {"field": "py", "type": "quantitative"},
        "text": {"field": "label"}
      }
    },
    {
      "data": {"values": [{"label": "6", "px": 12.364, "py": -0.427}]},
      "mark": {"type": "text", "font": "Liberation Sans", "fontWeight": "bold", "fontSize": 28, "color": "#000000", "align": "center", "baseline": "alphabetic"},
      "encoding": {
        "x": {"field": "px", "type": "quantitative"},
        "y": {"field": "py", "type": "quantitative"},
        "text": {"field": "label"}
      }
    }
  ]
}
